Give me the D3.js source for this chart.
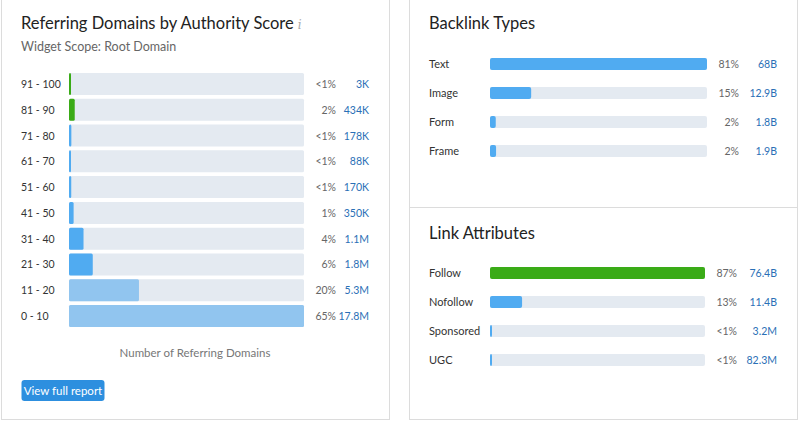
<!DOCTYPE html>
<html><head><meta charset="utf-8">
<script src="https://cdn.jsdelivr.net/npm/d3@7"></script>
<style>
html,body{margin:0;padding:0;background:#fff;}
svg{display:block;font-family:Lato,"Open Sans",sans-serif;}
</style></head>
<body>
<svg id="c" width="800" height="423"></svg>
<script>
// ---- data ----
const authorityCategories = ["91 - 100","81 - 90","71 - 80","61 - 70","51 - 60","41 - 50","31 - 40","21 - 30","11 - 20","0 - 10"];
const authorityValues = [3000, 434000, 178000, 88000, 170000, 350000, 1100000, 1800000, 5300000, 17800000];
const authorityPct = ["<1%","2%","<1%","<1%","<1%","1%","4%","6%","20%","65%"];
const authorityLabels = ["3K","434K","178K","88K","170K","350K","1.1M","1.8M","5.3M","17.8M"];

const backlinkCategories = ["Text","Image","Form","Frame"];
const backlinkValues = [68e9, 12.9e9, 1.8e9, 1.9e9];
const backlinkPct = ["81%","15%","2%","2%"];
const backlinkLabels = ["68B","12.9B","1.8B","1.9B"];

const attrCategories = ["Follow","Nofollow","Sponsored","UGC"];
const attrValues = [76.4e9, 11.4e9, 3.2e6, 82.3e6];
const attrPct = ["87%","13%","<1%","<1%"];
const attrLabels = ["76.4B","11.4B","3.2M","82.3M"];

// ---- styles ----
const GREEN = "#3aab17", BLUE = "#50abf1", LIGHT = "#91c5ef", TRACK = "#e4eaf1";
const TXT = "#333", GRAY = "#666", LINK = "#2a6fb6", BORDER = "#dcdcdc";
const authorityColor = d3.scaleOrdinal().domain(authorityCategories)
  .range([GREEN,GREEN,BLUE,BLUE,BLUE,BLUE,BLUE,BLUE,LIGHT,LIGHT]);

const svg = d3.select("#c");

// panels
svg.append("rect").attr("x",1.5).attr("y",-2).attr("width",388).attr("height",421.5)
  .attr("fill","#fff").attr("stroke",BORDER);
svg.append("rect").attr("x",409.5).attr("y",-2).attr("width",388).attr("height",421.5)
  .attr("fill","#fff").attr("stroke",BORDER);
svg.append("line").attr("x1",409.5).attr("x2",797.5).attr("y1",207.5).attr("y2",207.5)
  .attr("stroke",BORDER);

// ---- left panel ----
const L = svg.append("g");
const title = L.append("text").attr("x",21).attr("y",29).attr("font-size",16.5)
  .attr("fill","#222").text("Referring Domains by Authority Score");
const tw = title.node().getComputedTextLength();
L.append("text").attr("x",21 + tw + 4).attr("y",29).attr("font-size",12).attr("font-style","italic")
  .attr("font-family","DejaVu Serif").attr("fill","#aaa").text("i");
L.append("text").attr("x",21).attr("y",51).attr("font-size",12.5).attr("fill","#666")
  .text("Widget Scope: Root Domain");

const yA = d3.scaleBand().domain(authorityCategories).range([73, 73 + 254]).paddingInner(0.147).paddingOuter(0);
const xA = d3.scaleLinear().domain([0, d3.max(authorityValues)]).range([0, 235]);
const x0A = 69;
const rowsA = L.selectAll("g.ra").data(authorityCategories).join("g").attr("class","ra");
rowsA.append("rect").attr("x",x0A).attr("y",d=>yA(d)).attr("width",235).attr("height",yA.bandwidth())
  .attr("fill",TRACK).attr("rx",1.5);
rowsA.append("rect").attr("x",x0A).attr("y",d=>yA(d)).attr("height",yA.bandwidth())
  .attr("width",(d,i)=>Math.max(2, xA(authorityValues[i]))).attr("fill",d=>authorityColor(d)).attr("rx",1.5);
rowsA.append("text").attr("x",21).attr("y",d=>yA(d)+yA.bandwidth()/2+4).attr("font-size",10.5)
  .attr("fill",TXT).text(d=>d);
rowsA.append("text").attr("x",336).attr("y",d=>yA(d)+yA.bandwidth()/2+4).attr("font-size",10.5)
  .attr("text-anchor","end").attr("fill",GRAY).text((d,i)=>authorityPct[i]);
rowsA.append("text").attr("x",369).attr("y",d=>yA(d)+yA.bandwidth()/2+4).attr("font-size",10.5)
  .attr("text-anchor","end").attr("fill",LINK).text((d,i)=>authorityLabels[i]);

L.append("text").attr("x",195).attr("y",357).attr("font-size",11.5).attr("text-anchor","middle")
  .attr("fill","#777").text("Number of Referring Domains");

L.append("rect").attr("x",21.5).attr("y",380).attr("width",83).attr("height",21).attr("rx",3)
  .attr("fill","#2d8fdf");
L.append("text").attr("x",63).attr("y",394.5).attr("font-size",11.5).attr("text-anchor","middle")
  .attr("fill","#fff").text("View full report");

// ---- right panels ----
function barPanel(titleText, titleY, cats, vals, pcts, labels, rowTop, colorFn, barW, pctX) {
  const g = svg.append("g");
  g.append("text").attr("x",429).attr("y",titleY).attr("font-size",16.5).attr("fill","#222").text(titleText);
  const y = d3.scaleBand().domain(cats).range([rowTop, rowTop + 99]).paddingInner(0.586).paddingOuter(0);
  const x = d3.scaleLinear().domain([0, d3.max(vals)]).range([0, barW]);
  const rows = g.selectAll("g.r").data(cats).join("g");
  rows.append("rect").attr("x",490).attr("y",d=>y(d)).attr("width",barW).attr("height",y.bandwidth())
    .attr("fill",TRACK).attr("rx",2);
  rows.append("rect").attr("x",490).attr("y",d=>y(d)).attr("height",y.bandwidth())
    .attr("width",(d,i)=>Math.max(2, x(vals[i]))).attr("fill",(d,i)=>colorFn(d,i)).attr("rx",2);
  const ty = d=>y(d)+y.bandwidth()/2+4;
  rows.append("text").attr("x",429).attr("y",ty).attr("font-size",11).attr("fill",TXT).text(d=>d);
  rows.append("text").attr("x",pctX).attr("y",ty).attr("font-size",10.5).attr("text-anchor","end")
    .attr("fill",GRAY).text((d,i)=>pcts[i]);
  rows.append("text").attr("x",777).attr("y",ty).attr("font-size",10.5).attr("text-anchor","end")
    .attr("fill",LINK).text((d,i)=>labels[i]);
}
barPanel("Backlink Types", 29, backlinkCategories, backlinkValues, backlinkPct, backlinkLabels, 58, ()=>BLUE, 217, 739);
barPanel("Link Attributes", 239, attrCategories, attrValues, attrPct, attrLabels, 267,
  (d,i)=> i===0 ? GREEN : BLUE, 215, 737);
</script>
</body></html>
